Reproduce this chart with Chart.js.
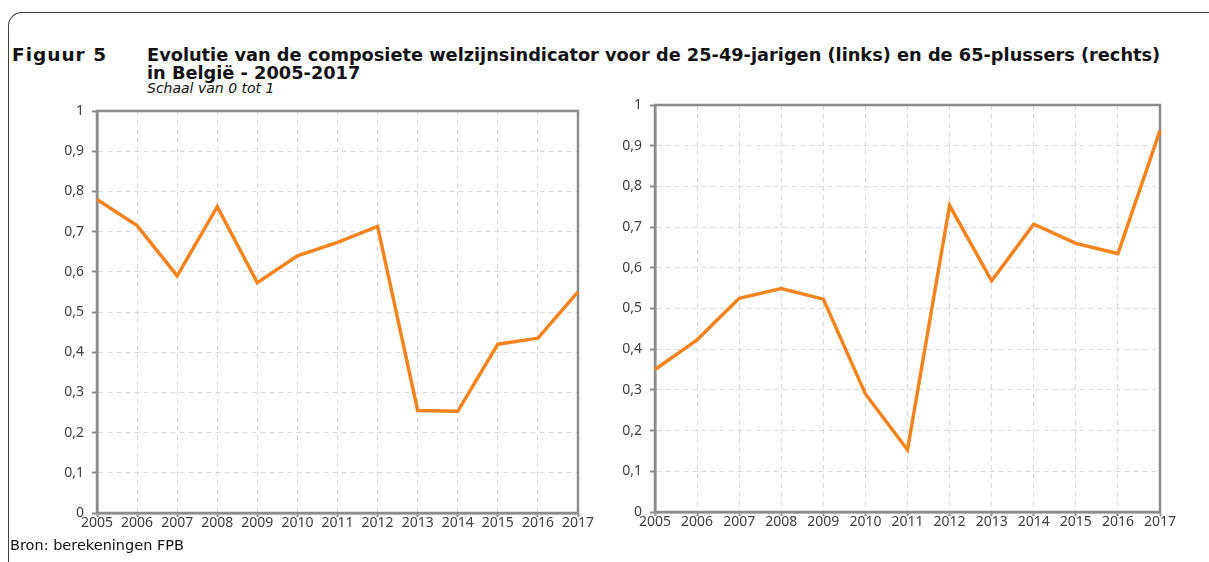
<!DOCTYPE html>
<html>
<head>
<meta charset="utf-8">
<script src="https://cdn.jsdelivr.net/npm/chart.js@4.4.1/dist/chart.umd.min.js"></script>
<style>
  body { margin: 0; background: #fff; font-family: "DejaVu Sans", sans-serif; }
  #page { position: relative; width: 1209px; height: 562px; overflow: hidden; }
  .frame { position: absolute; left: 8px; top: 12px; width: 1300px; height: 700px;
           border-top: 1.5px solid #404040; border-left: 1.5px solid #404040; border-top-left-radius: 14px; }
  .num { position: absolute; left: 12px; top: 46px; font-weight: bold; font-size: 18.5px; letter-spacing: 1px; line-height: 18px; color: #111; }
  .title { position: absolute; left: 147px; top: 46px; font-weight: bold; font-size: 17.75px; line-height: 18px; color: #111; }
  .sub { position: absolute; left: 147px; top: 80px; font-style: italic; font-size: 14px; color: #111; }
  .src { position: absolute; left: 10px; top: 537px; font-size: 14.5px; color: #111; }
  #c1 { position: absolute; left: 40px; top: 100px; }
  #c2 { position: absolute; left: 600px; top: 95px; }
</style>
</head>
<body>
<div id="page">
  <div class="frame"></div>
  <div class="num">Figuur 5</div>
  <div class="title">Evolutie van de composiete welzijnsindicator voor de 25-49-jarigen (links) en de 65-plussers (rechts)<br>in België - 2005-2017</div>
  <div class="sub">Schaal van 0 tot 1</div>
  <canvas id="c1" width="560" height="440"></canvas>
  <canvas id="c2" width="590" height="445"></canvas>
  <div class="src">Bron: berekeningen FPB</div>
</div>
<script>
const years = ['2005', '2006', '2007', '2008', '2009', '2010', '2011', '2012', '2013', '2014', '2015', '2016', '2017'];
const links = [0.78, 0.715, 0.59, 0.762, 0.573, 0.64, 0.673, 0.713, 0.255, 0.253, 0.42, 0.435, 0.55];
const rechts = [0.35, 0.423, 0.525, 0.549, 0.523, 0.29, 0.153, 0.753, 0.568, 0.707, 0.66, 0.635, 0.937];
const yTickLabels = ['0', '0,1', '0,2', '0,3', '0,4', '0,5', '0,6', '0,7', '0,8', '0,9', '1'];

const axisGrey = '#8c8c8c';
const tickFont = { family: 'Noto Sans', size: 14 };

// grey box round the plot area (top and right sides too)
const boxPlugin = {
    id: 'box',
    beforeDatasetsDraw(chart) {
        const { ctx, chartArea: a } = chart;
        ctx.save();
        ctx.strokeStyle = axisGrey;
        ctx.lineWidth = 2.5;
        ctx.strokeRect(a.left, a.top, a.right - a.left, a.bottom - a.top);
        ctx.restore();
    }
};

function makeChart(id, values, pad, yWidth, xHeight) {
    const ctx = document.getElementById(id).getContext('2d');
    return new Chart(ctx, {
        type: 'line',
        data: {
            labels: years,
            datasets: [{
                data: values,
                borderColor: '#F5841F',
                borderWidth: 3.5,
                pointRadius: 0,
                tension: 0,
                fill: false
            }]
        },
        options: {
            responsive: false,
            animation: false,
            layout: { padding: pad },
            plugins: { legend: { display: false }, tooltip: { enabled: false } },
            scales: {
                x: {
                    grid: { color: '#d9d9d9', lineWidth: 1, tickLength: 4, tickColor: axisGrey, tickWidth: 2 },
                    border: { display: true, color: axisGrey, width: 2.5, dash: [5, 4] },
                    ticks: { color: '#404040', font: tickFont, padding: -2, maxRotation: 0, autoSkip: false },
                    afterFit(scale) {
                        scale.height = xHeight;
                        scale.paddingLeft = 0;
                        scale.paddingRight = 0;
                    }
                },
                y: {
                    min: 0,
                    max: 1,
                    grid: { color: '#d9d9d9', lineWidth: 1, tickLength: 5, tickColor: axisGrey, tickWidth: 2 },
                    border: { display: true, color: axisGrey, width: 2.5, dash: [5, 4] },
                    ticks: {
                        stepSize: 0.1,
                        color: '#404040',
                        font: tickFont,
                        padding: 8,
                        callback: (v, i) => yTickLabels[i]
                    },
                    afterFit(scale) {
                        scale.width = yWidth;
                        scale.paddingTop = 0;
                        scale.paddingBottom = 0;
                    }
                }
            }
        },
        plugins: [boxPlugin]
    });
}

makeChart('c1', links, { top: 11, right: 22, left: 0, bottom: 0 }, 57, 27);
makeChart('c2', rechts, { top: 10, right: 30, left: 0, bottom: 0 }, 55, 28);
</script>
</body>
</html>
